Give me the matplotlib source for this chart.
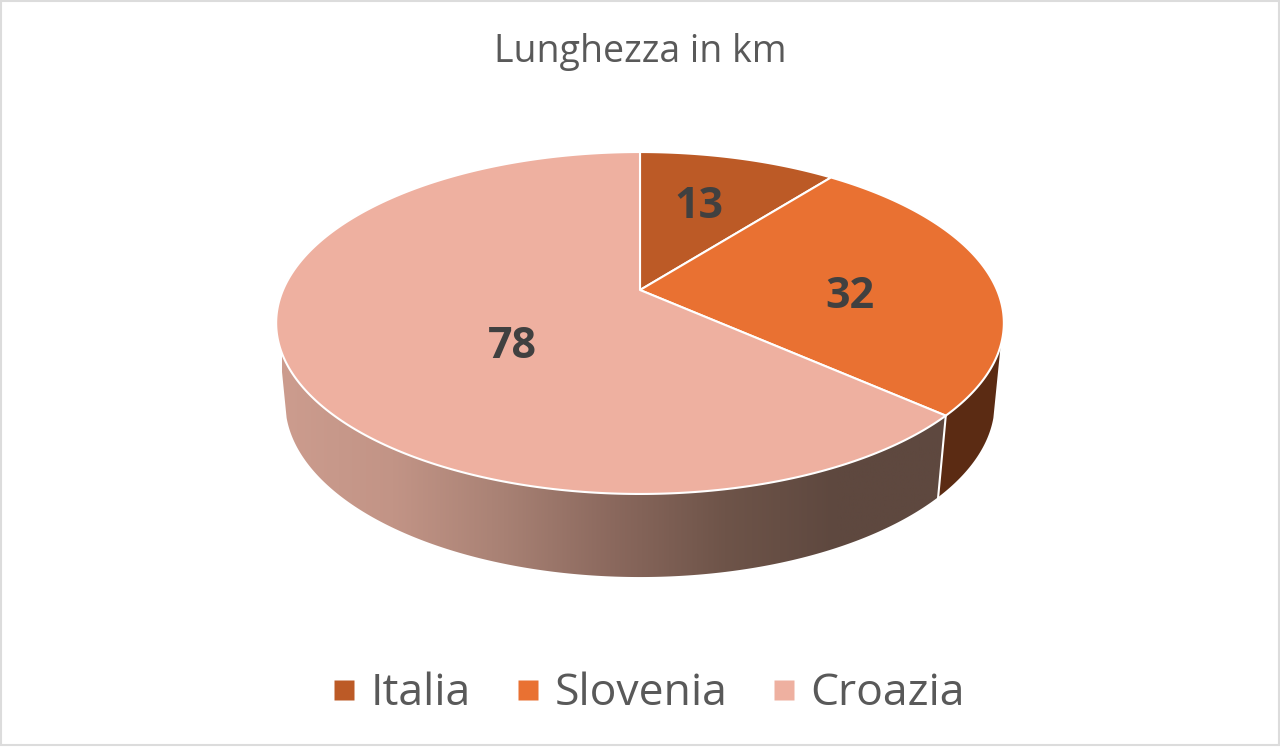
import numpy as np
import matplotlib
matplotlib.use('Agg')
import matplotlib.pyplot as plt
from matplotlib.colors import LinearSegmentedColormap
from matplotlib.lines import Line2D
from matplotlib.patches import Polygon, Rectangle

countries = ['Italia', 'Slovenia', 'Croazia']
lengths = [13, 32, 78]
top_colors = ['#BC5A26', '#E97132', '#EEB0A0']
wall_colors = ['#5B2B13', '#5B2B13', None]
label_pos = [(699, 206), (850, 297), (512, 347)]

# pie drawn in pixel coordinates, tilted with a simple perspective
CX, CY = 640, 290
RX, RY = 357, 164.6
K = 0.193
WALL_SCALE = 0.975
WALL_SCALE_Y = 1.02
WALL_DROP = 79


def top_edge(theta):
    s, c = np.sin(theta), np.cos(theta)
    return CX + RX * s / (1 + K * c), CY - RY * c / (1 + K * c)


def bottom_edge(theta):
    x, y = top_edge(theta)
    return CX + WALL_SCALE * (x - CX), CY + WALL_SCALE_Y * (y - CY) + WALL_DROP


fig = plt.figure(figsize=(12.8, 7.47), dpi=100)
ax = fig.add_axes([0, 0, 1, 1])
ax.set_xlim(0, 1280)
ax.set_ylim(747, 0)
ax.axis('off')

ax.add_patch(Rectangle((1, 1), 1278, 744, fc='white', ec='#dcdcdc', lw=1.5))

bounds = np.cumsum([0] + lengths) / sum(lengths) * 2 * np.pi
# the wall leaves the top face lower than where the bottom curve turns
top_start = np.radians(108.5)
bottom_start = np.radians(106)
shade = LinearSegmentedColormap.from_list(
    'shade', ['#CC9C8E', '#C29486', '#A88174', '#8A685D', '#6E5449', '#5E483F', '#5E483F'])

# side walls first
for i in range(len(lengths)):
    a = max(bounds[i], top_start)
    b = min(bounds[i + 1], 2 * np.pi - top_start)
    if b <= a:
        continue
    a2 = max(bounds[i], bottom_start)
    b2 = min(bounds[i + 1], 2 * np.pi - bottom_start)
    xt, yt = top_edge(np.linspace(a, b, 200))
    xb, yb = bottom_edge(np.linspace(b2, a2, 200))
    poly = Polygon(np.column_stack([np.r_[xt, xb], np.r_[yt, yb]]),
                   closed=True, fc=wall_colors[i] or 'none', ec='none')
    ax.add_patch(poly)
    if wall_colors[i] is None:
        grad = np.linspace(1, 0, 256).reshape(1, -1)
        im = ax.imshow(grad, cmap=shade, extent=(xt.max(), xb.min() - 5, 600, 300),
                       aspect='auto', zorder=2)
        ax.set_xlim(0, 1280)
        ax.set_ylim(747, 0)
        im.set_clip_path(poly)
    if a > top_start:
        x0, y0 = top_edge(a)
        x1, y1 = bottom_edge(a)
        ax.plot([x0, x1], [y0, y1], color='white', lw=1.5, zorder=3)

# top face
for i in range(len(lengths)):
    t = np.linspace(bounds[i], bounds[i + 1], 300)
    x, y = top_edge(t)
    ax.add_patch(Polygon(np.column_stack([np.r_[CX, x], np.r_[CY, y]]), closed=True,
                         fc=top_colors[i], ec='white', lw=1.5, joinstyle='round', zorder=4))

for val, (x, y) in zip(lengths, label_pos):
    ax.text(x, y, str(val), ha='center', va='center', fontsize=31, fontweight='bold',
            color='#404040', family='Open Sans', zorder=5)

ax.text(640, 52, 'Lunghezza in km', ha='center', va='center', fontsize=27,
        color='#595959', family='Open Sans')

handles = [Line2D([], [], ls='none', marker='s', ms=14.4, mfc=c, mec='none') for c in top_colors]
ax.legend(handles, countries, ncol=3, loc='center', bbox_to_anchor=(643.5 / 1280, 1 - 694 / 747),
          frameon=False, labelcolor='#595959', handletextpad=0.1,
          columnspacing=0.77, handlelength=1.0, prop={'family': 'Open Sans', 'size': 32})

fig.savefig('out.png', dpi=100)
